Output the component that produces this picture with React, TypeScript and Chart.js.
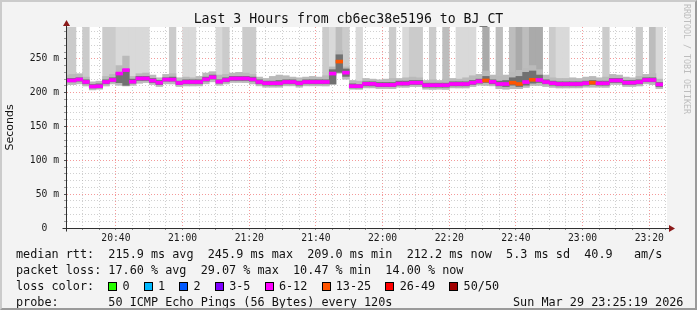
import React, { useEffect, useRef } from 'react';
import { Chart, registerables } from 'chart.js';

Chart.register(...registerables);

// ---------- data ----------
const TITLE = 'Last 3 Hours from cb6ec38e5196 to BJ_CT';
const START_MIN = 20 * 60 + 25 + 19 / 60; // 20:25:19
const END_MIN = START_MIN + 180; // 23:25:19
const FIRST_STEP_END = 20 * 60 + 26; // first rrd step ends 20:26
const STEP_MIN = 2; // 120 s steps
const Y_MAX = 297;

// median rtt per step (ms)
const medianRtt = [
  218.0, 218.0, 219.5, 215.8, 209.0, 209.5, 215.8, 218.7, 228.2, 233.3,
  216.2, 221.0, 221.0, 217.8, 214.7, 219.3, 219.3, 214.3, 215.8, 215.8,
  215.8, 219.7, 222.8, 216.2, 218.7, 221.0, 221.0, 221.0, 219.6, 215.8,
  214.0, 214.0, 214.0, 215.8, 215.8, 214.0, 215.8, 215.8, 215.8, 215.8,
  228.2, 245.9, 229.5, 209.6, 209.6, 213.0, 213.0, 211.5, 211.5, 211.5,
  213.5, 213.5, 214.7, 214.7, 211.0, 211.0, 211.0, 211.0, 212.8, 212.8,
  212.8, 214.7, 216.7, 218.0, 216.0, 212.8, 212.8, 214.7, 212.8, 215.7,
  219.0, 218.7, 215.7, 214.0, 212.8, 212.8, 212.8, 212.8, 214.0, 214.7,
  213.8, 213.8, 218.0, 218.0, 214.7, 214.7, 215.7, 218.7, 218.7, 212.2,
];

// outer smoke (all pings) low / high (ms)
const smokeLow = [
  212, 212, 213, 210, 204, 205, 210, 213, 211, 210,
  211, 214, 215, 212, 209, 213, 213, 209, 210, 210,
  210, 213, 216, 211, 213, 215, 215, 215, 213, 210,
  208, 208, 208, 210, 210, 208, 210, 210, 210, 210,
  212, 229, 220, 205, 205, 207, 207, 206, 206, 206,
  208, 208, 209, 209, 205, 205, 205, 205, 207, 207,
  207, 209, 211, 211, 210, 206, 205, 206, 206, 208,
  211, 211, 209, 208, 207, 207, 207, 207, 208, 208,
  208, 208, 212, 212, 209, 209, 210, 213, 212, 206,
];
const smokeHigh = [
  226, 227, 228, 223, 216, 217, 224, 227, 240, 254,
  224, 228, 229, 226, 222, 227, 228, 222, 223, 222,
  224, 229, 231, 226, 227, 229, 230, 229, 227, 223,
  221, 224, 226, 225, 223, 222, 223, 224, 223, 225,
  238, 262, 238, 218, 217, 221, 220, 219, 220, 221,
  221, 222, 223, 222, 218, 219, 218, 220, 221, 220,
  222, 225, 227, 232, 226, 224, 226, 230, 233, 236,
  240, 234, 226, 222, 221, 221, 222, 221, 223, 224,
  222, 223, 227, 226, 223, 222, 224, 227, 228, 220,
];
// dense core of the smoke low / high (ms)
const coreLow = [
  216, 216, 217, 213, 207, 207, 213, 216, 214.7, 210.8,
  214, 218, 218, 215, 212, 217, 217, 212, 213, 213,
  213, 217, 220, 214, 216, 218, 218, 218, 217, 213,
  211, 211, 211, 213, 213, 211, 213, 213, 213, 213,
  213, 230, 224, 207, 207, 210, 210, 209, 209, 209,
  211, 211, 212, 212, 208, 208, 208, 208, 210, 210,
  210, 212, 214, 215, 213, 210, 209, 211, 209, 211,
  214, 215, 213, 211, 210, 210, 210, 210, 211, 212,
  211, 211, 215, 215, 212, 212, 213, 216, 216, 209,
];
const coreHigh = [
  221, 221, 222, 219, 212, 213, 219, 222, 229.5, 234.5,
  220, 224, 224, 221, 218, 222, 223, 217, 219, 219,
  219, 223, 226, 219, 222, 224, 224, 224, 223, 219,
  217, 217, 218, 219, 219, 217, 219, 219, 219, 219,
  234, 256, 235, 213, 212, 216, 216, 215, 215, 215,
  217, 217, 218, 218, 214, 214, 214, 214, 216, 216,
  216, 218, 220, 224, 219, 217, 218, 222, 224, 230,
  232, 226, 219, 217, 216, 216, 216, 216, 217, 218,
  217, 217, 221, 221, 218, 218, 219, 222, 222, 215,
];
// packet loss per step (%)
const lossPct = [
  18, 18, 14, 19, 15, 16, 20, 19, 17, 18,
  16, 17, 16, 14, 13, 15, 19, 14, 17, 16,
  14, 15, 14, 16, 19, 14, 15, 18, 19, 14,
  13, 14, 15, 14, 13, 14, 14, 15, 14, 19,
  17, 29, 20, 14, 16, 14, 13, 14, 15, 19,
  14, 17, 19, 20, 14, 19, 13, 22, 14, 17,
  16, 17, 15, 27, 14, 22, 15, 26, 28, 23,
  28, 24, 14, 19, 17, 16, 14, 13, 14, 26,
  15, 19, 14, 14, 13, 14, 19, 14, 21, 14,
];
// lost-ping shading level per step (0 = none)
const lostLevel = [
  2, 2, 0, 2, 0, 0, 2, 2, 1, 1,
  1, 1, 1, 0, 0, 0, 2, 0, 1, 1,
  0, 0, 0, 1, 2, 0, 0, 2, 2, 0,
  0, 0, 0, 0, 0, 0, 0, 0, 0, 2,
  1, 3, 2, 0, 1, 0, 0, 0, 0, 2,
  0, 1, 2, 2, 0, 2, 0, 3, 0, 1,
  1, 1, 0, 4, 0, 3, 0, 3, 4, 3,
  4, 4, 0, 2, 1, 1, 0, 0, 0, 0,
  0, 2, 0, 0, 0, 0, 2, 0, 3, 1,
];

const rttStats = ['215.9 ms avg', '245.9 ms max', '209.0 ms min', '212.2 ms now', '5.3 ms sd', '40.9   am/s'];
const lossStats = ['17.60 % avg', '29.07 % max', '10.47 % min', '14.00 % now'];
const lossBins = ['0', '1', '2', '3-5', '6-12', '13-25', '26-49', '50/50'];
const lossBinMaxPings = [0, 1, 2, 5, 12, 25, 49, 50];
const lossBinColors = ['#26ff00', '#00b8ff', '#0059ff', '#7e00ff', '#ff00ff', '#ff5500', '#ff0000', '#a10000'];
const PINGS = 50;
const probeText = '50 ICMP Echo Pings (56 Bytes) every 120s';
const dateText = 'Sun Mar 29 23:25:19 2026';
const yAxisTitle = 'Seconds';
const credit = 'RRDTOOL / TOBI OETIKER';

// ---------- styling ----------
const MONO = "'DejaVu Sans Mono', monospace";
const LEVEL_COLORS = ['', '#d9d9d9', '#cbcbcb', '#bdbdbd', '#aaaaaa'];
const MED_HALF = 2.2;
const MAJOR_GRID = 'rgba(240, 120, 120, 0.75)';
const MINOR_GRID = 'rgba(170, 170, 170, 0.55)';

function lossColor(pct: number): string {
  const pings = Math.round((pct * PINGS) / 100);
  for (let i = 0; i < lossBinMaxPings.length; i++) {
    if (pings <= lossBinMaxPings[i]) return lossBinColors[i];
  }
  return lossBinColors[lossBinColors.length - 1];
}

function hhmm(m: number): string {
  const h = Math.floor(m / 60);
  const mm = Math.round(m - h * 60);
  return `${String(h).padStart(2, '0')}:${String(mm).padStart(2, '0')}`;
}

const framePlugin = {
  id: 'rrdFrame',
  beforeDraw(chart: any) {
    const { ctx, chartArea: a } = chart;
    ctx.save();
    ctx.fillStyle = '#ffffff';
    ctx.fillRect(a.left, a.top, a.right - a.left, a.bottom - a.top);
    ctx.restore();
  },
  afterDraw(chart: any) {
    const { ctx, chartArea: a } = chart;
    const lx = Math.round(a.left) - 0.5;
    const by = Math.round(a.bottom) + 0.5;
    ctx.save();
    ctx.strokeStyle = '#303030';
    ctx.lineWidth = 1;
    ctx.beginPath();
    ctx.moveTo(lx, by + 3);
    ctx.lineTo(lx, a.top - 4);
    ctx.moveTo(lx - 4, by);
    ctx.lineTo(a.right + 4, by);
    ctx.stroke();
    ctx.fillStyle = '#8b1a1a';
    ctx.beginPath();
    ctx.moveTo(lx - 3.5, a.top - 1);
    ctx.lineTo(lx + 3.5, a.top - 1);
    ctx.lineTo(lx, a.top - 7);
    ctx.closePath();
    ctx.fill();
    ctx.beginPath();
    ctx.moveTo(a.right + 2, by - 3.5);
    ctx.lineTo(a.right + 2, by + 3.5);
    ctx.lineTo(a.right + 8, by);
    ctx.closePath();
    ctx.fill();
    ctx.restore();
  },
};

export default function App() {
  const ref = useRef<HTMLCanvasElement>(null);

  useEffect(() => {
    const canvas = ref.current;
    if (!canvas) return;
    const centers = medianRtt.map((_, i) => FIRST_STEP_END + STEP_MIN * i - STEP_MIN / 2);
    const band = (lo: number[], hi: number[]) => centers.map((x, i) => ({ x, y: [lo[i], hi[i]] }));
    const lostIdx = centers.map((_, i) => i).filter((i) => lostLevel[i] > 0);
    const yGrid: number[] = [];
    for (let v = 0; v < Y_MAX; v += 10) yGrid.push(v);
    const xGrid: number[] = [];
    for (let m = Math.ceil(START_MIN / 5) * 5; m <= END_MIN; m += 5) xGrid.push(m);
    const tickFont = { family: MONO, size: 9.7 };

    const chart = new Chart(canvas, {
      type: 'bar',
      data: {
        datasets: [
          {
            label: 'median',
            data: centers.map((x, i) => ({ x, y: [medianRtt[i] - MED_HALF, medianRtt[i] + MED_HALF] })),
            backgroundColor: medianRtt.map((_, i) => lossColor(lossPct[i])),
            order: 1,
          },
          { label: 'core', data: band(coreLow, coreHigh), backgroundColor: '#717171', order: 2 },
          { label: 'smoke', data: band(smokeLow, smokeHigh), backgroundColor: '#bababa', order: 3 },
          {
            label: 'lost',
            data: lostIdx.map((i) => ({ x: centers[i], y: [smokeLow[i], Y_MAX] })),
            backgroundColor: lostIdx.map((i) => LEVEL_COLORS[lostLevel[i]]),
            order: 4,
          },
        ] as any,
      },
      options: {
        animation: false,
        responsive: false,
        maintainAspectRatio: false,
        events: [],
        layout: { padding: { top: 27, right: 30, left: 0, bottom: 0 } },
        datasets: {
          bar: { grouped: false, barPercentage: 1, categoryPercentage: 1, borderWidth: 0 } as any,
        },
        plugins: {
          legend: { display: false },
          tooltip: { enabled: false },
          title: { display: false },
        },
        scales: {
          x: {
            type: 'linear',
            min: START_MIN,
            max: END_MIN,
            offset: false,
            z: 1,
            afterBuildTicks: (s: any) => {
              s.ticks = xGrid.map((v) => ({ value: v }));
            },
            afterFit: (s: any) => {
              s.height = 82;
            },
            ticks: {
              autoSkip: false,
              maxRotation: 0,
              minRotation: 0,
              padding: 3,
              font: tickFont,
              color: '#1a1a1a',
              callback: (v: any) => (Math.round(Number(v)) % 20 === 0 ? hhmm(Number(v)) : ''),
            },
            grid: {
              offset: false,
              color: (c: any) => (c.tick && Math.round(c.tick.value) % 20 === 0 ? MAJOR_GRID : MINOR_GRID),
              tickLength: 2,
              tickColor: '#888',
            },
            border: { display: false, dash: [1, 2] },
          },
          y: {
            type: 'linear',
            min: 0,
            max: Y_MAX,
            z: 1,
            afterBuildTicks: (s: any) => {
              s.ticks = yGrid.map((v) => ({ value: v }));
            },
            afterFit: (s: any) => {
              s.width = 67;
            },
            ticks: {
              autoSkip: false,
              padding: 5,
              font: tickFont,
              color: '#1a1a1a',
              callback: (v: any) => {
                const n = Number(v);
                if (n % 50 !== 0) return '';
                return n === 0 ? '0  ' : `${n} m`;
              },
            },
            grid: {
              color: (c: any) => (c.tick && c.tick.value % 50 === 0 ? MAJOR_GRID : MINOR_GRID),
              tickLength: 3,
              tickColor: (c: any) => (c.tick && c.tick.value % 50 === 0 ? '#555' : '#999'),
            },
            border: { display: false, dash: [1, 2] },
            title: {
              display: true,
              text: yAxisTitle,
              font: { family: "'DejaVu Sans', sans-serif", size: 11 },
              color: '#111',
              padding: { top: 4, bottom: 0 },
            },
          },
        },
      } as any,
      plugins: [framePlugin],
    });
    return () => chart.destroy();
  }, []);

  const line = (top: number): React.CSSProperties => ({
    position: 'absolute',
    left: 16,
    top,
    height: 16,
    lineHeight: '16px',
    fontFamily: MONO,
    fontSize: '11.8px',
    color: '#111',
    whiteSpace: 'pre',
  });

  return (
    <div
      style={{
        position: 'absolute',
        left: 0,
        top: 0,
        width: 697,
        height: 310,
        background: '#f3f3f3',
        overflow: 'hidden',
      }}
    >
      <canvas ref={ref} width={697} height={310} style={{ position: 'absolute', left: 0, top: 0, display: 'block' }} />
      <div
        style={{
          position: 'absolute',
          left: 0,
          top: 11,
          width: 697,
          textAlign: 'center',
          fontFamily: MONO,
          fontSize: '13.2px',
          lineHeight: '16px',
          color: '#111',
          whiteSpace: 'pre',
        }}
      >
        {TITLE}
      </div>
      <div
        style={{
          position: 'absolute',
          left: 682,
          top: 4,
          writingMode: 'vertical-rl',
          fontFamily: MONO,
          fontSize: '8.3px',
          lineHeight: '10px',
          color: '#bdbdbd',
          whiteSpace: 'pre',
        }}
      >
        {credit}
      </div>
      <div style={line(246)}>{'median rtt:  ' + rttStats.join('  ')}</div>
      <div style={line(262)}>{'packet loss: ' + lossStats.join('  ')}</div>
      <div style={line(278)}>
        {'loss color:  '}
        {lossBins.map((b, i) => (
          <React.Fragment key={b}>
            <span
              style={{
                display: 'inline-block',
                width: 9,
                height: 9,
                boxSizing: 'border-box',
                border: '1px solid #000',
                background: lossBinColors[i],
                marginRight: 'calc(1ch - 9px)',
                verticalAlign: '-1px',
              }}
            />
            {' ' + b + (i < lossBins.length - 1 ? '  ' : '')}
          </React.Fragment>
        ))}
      </div>
      <div style={line(294)}>{'probe:       ' + probeText}</div>
      <div style={{ ...line(294), left: 513 }}>{dateText}</div>
      <div
        style={{
          position: 'absolute',
          left: 0,
          top: 0,
          width: 697,
          height: 310,
          boxSizing: 'border-box',
          borderTop: '2px solid #cbcbcb',
          borderLeft: '2px solid #cbcbcb',
          borderRight: '2px solid #9a9a9a',
          borderBottom: '2px solid #9a9a9a',
          pointerEvents: 'none',
        }}
      />
    </div>
  );
}
